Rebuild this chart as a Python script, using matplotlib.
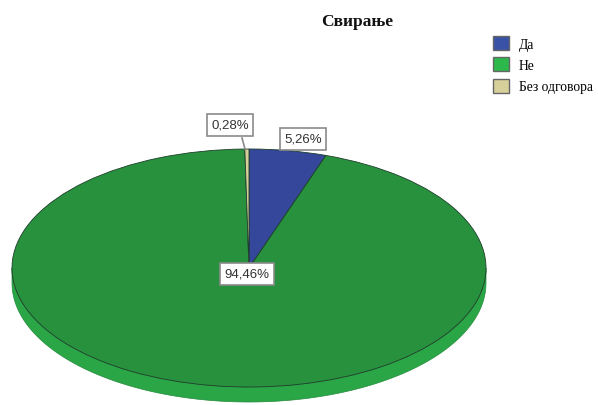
import numpy as np
import matplotlib.pyplot as plt
from matplotlib.patches import Patch, Polygon
from matplotlib.transforms import Affine2D

labels = ["Да", "Не", "Без одговора"]
values = [5.26, 94.46, 0.28]
pct_text = ["5,26%", "94,46%", "0,28%"]
title = "Свирање"

top_colors = ['#34479a', '#28913d', '#d7cf99']
legend_colors = ['#3a52a6', '#2db84c', '#d8d09a']
side_color = '#2aa646'

W, H = 598, 406
cx, cy, rx, ry, depth = 249, 269, 237, 119, 15

fig = plt.figure(figsize=(W / 100, H / 100), dpi=100)
ax = fig.add_axes([0, 0, 1, 1])

# side of the 3d disc (front half only, all green there)
t = np.linspace(np.pi, 2 * np.pi, 200)
xs = cx + rx * np.cos(t)
ys = cy - ry * np.sin(t)
side = np.vstack([np.column_stack([xs, ys]), np.column_stack([xs[::-1], ys[::-1] + depth])])
ax.add_patch(Polygon(side, closed=True, facecolor=side_color, edgecolor='#228a3a',
                     linewidth=0.5, zorder=1))

# top face
wedges, _ = ax.pie(values, colors=top_colors, startangle=90, counterclock=False,
                   wedgeprops=dict(edgecolor='#1d3d2a', linewidth=0.6))
tr = Affine2D().scale(rx, -ry).translate(cx, cy) + ax.transData
for w in wedges:
    w.set_transform(tr)
    w.set_zorder(2)

ax.set_aspect('auto')
ax.set_xlim(0, W)
ax.set_ylim(H, 0)
ax.axis('off')

# percentage labels
box = dict(boxstyle='square,pad=0.35', facecolor='white', edgecolor='#8a8a8a', linewidth=1.2)
lab_pos = [(303, 140), (247, 275), (230, 126)]
for (x, y), s in zip(lab_pos, pct_text):
    ax.text(x, y, s, ha='center', va='center', fontsize=9.5, color='#333333',
            family='Liberation Sans', bbox=box, zorder=5)
ax.plot([242, 245], [139, 150], color='#8a8a8a', lw=1.2, zorder=4)

ax.text(357, 22, title, ha='center', va='center', fontsize=12.5, fontweight='bold',
        family='Liberation Serif', color='#111111')

handles = [Patch(facecolor=c, edgecolor='#666666', linewidth=1) for c in legend_colors]
ax.legend(handles, labels, loc='upper left', bbox_to_anchor=(493 / W, 1 - 37 / H),
          frameon=False, borderpad=0, borderaxespad=0, handlelength=1.2, handleheight=1.2,
          handletextpad=0.7, labelspacing=0.5, prop=dict(family='Liberation Serif', size=9.8))

fig.savefig("out.png", dpi=100)
